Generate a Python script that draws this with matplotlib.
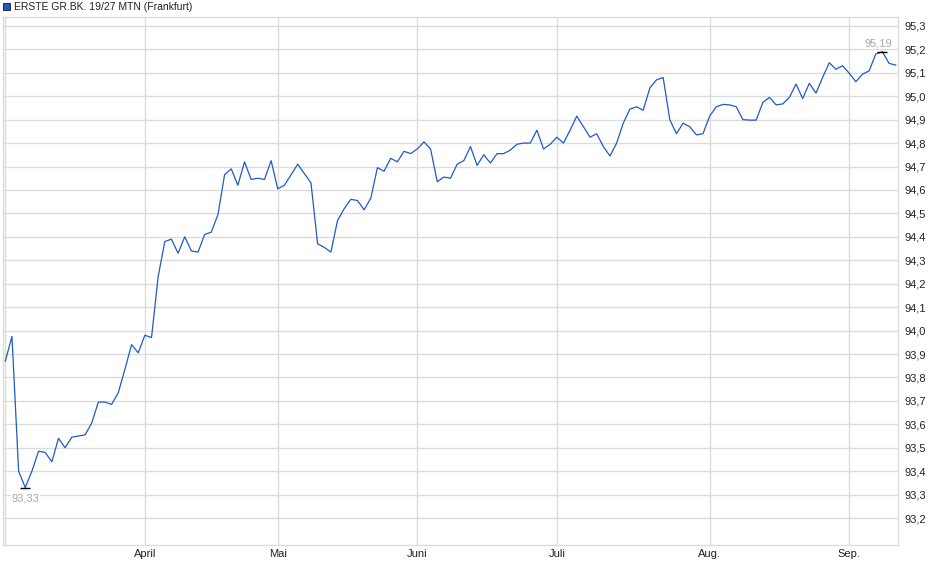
import matplotlib.pyplot as plt
from matplotlib.patches import Rectangle
from matplotlib.ticker import FuncFormatter

plt.rcParams['font.family'] = ['Liberation Sans', 'DejaVu Sans']

title = "ERSTE GR.BK. 19/27 MTN (Frankfurt)"

# daily closing prices (trading days)
prices = [
    93.87, 93.975, 93.40, 93.33, 93.40, 93.485, 93.48, 93.44, 93.54, 93.50,
    93.545, 93.55, 93.555, 93.605, 93.695, 93.695, 93.685, 93.735, 93.835, 93.94,
    93.905, 93.98, 93.97, 94.23, 94.38, 94.39, 94.33, 94.40, 94.34, 94.335,
    94.41, 94.42, 94.495, 94.665, 94.69, 94.62, 94.72, 94.645, 94.65, 94.645,
    94.725, 94.605, 94.62, 94.665, 94.71, 94.67, 94.63, 94.37, 94.355, 94.335,
    94.47, 94.52, 94.56, 94.555, 94.515, 94.565, 94.695, 94.68, 94.735, 94.72,
    94.765, 94.755, 94.775, 94.805, 94.775, 94.635, 94.655, 94.65, 94.71, 94.725,
    94.785, 94.705, 94.75, 94.715, 94.755, 94.755, 94.77, 94.795, 94.80, 94.80,
    94.855, 94.775, 94.795, 94.825, 94.80, 94.855, 94.915, 94.87, 94.825, 94.84,
    94.785, 94.745, 94.80, 94.885, 94.945, 94.955, 94.94, 95.035, 95.07, 95.08,
    94.90, 94.84, 94.885, 94.87, 94.835, 94.84, 94.915, 94.955, 94.965, 94.963,
    94.955, 94.90, 94.898, 94.898, 94.973, 94.995, 94.963, 94.967, 94.995, 95.052,
    94.99, 95.055, 95.013, 95.08, 95.143, 95.115, 95.13, 95.098, 95.062, 95.094,
    95.108, 95.18, 95.19, 95.14, 95.133,
]

# first trading day of each month (index into prices)
month_idx = [0, 21, 41, 62, 83, 106, 127]
month_labels = ["", "April", "Mai", "Juni", "Juli", "Aug.", "Sep."]

y_ticks = [93.2, 93.3, 93.4, 93.5, 93.6, 93.7, 93.8, 93.9, 94.0, 94.1, 94.2,
           94.3, 94.4, 94.5, 94.6, 94.7, 94.8, 94.9, 95.0, 95.1, 95.2, 95.3]

x = list(range(len(prices)))

fig = plt.figure(figsize=(9.4, 5.79), dpi=100)
ax = fig.add_axes([3 / 940, 1 - 545 / 579, 894.5 / 940, 528 / 579])

ax.plot(x, prices, color='#1f5bc4', linewidth=0.9, zorder=3)

ax.set_xlim(-0.35, 134.27)
ax.set_ylim(93.085, 95.338)

ax.set_xticks(month_idx)
ax.set_xticklabels(month_labels)
ax.set_yticks(y_ticks)
ax.yaxis.set_major_formatter(FuncFormatter(lambda v, p: f"{v:.1f}".replace('.', ',')))
ax.yaxis.tick_right()
ax.tick_params(axis='both', length=0, labelsize=8, colors='#222222')
ax.tick_params(axis='y', pad=5)
ax.tick_params(axis='x', pad=3)
ax.grid(True, color='#dcdcdc', linewidth=1)
for s in ax.spines.values():
    s.set_color('#dcdcdc')
    s.set_linewidth(1)

# min / max markers
i_min = prices.index(min(prices))
i_max = prices.index(max(prices))
for i, off in [(i_min, -8), (i_max, 6)]:
    ax.plot(i, prices[i], marker='_', markersize=7, mew=1, color='black', zorder=4)
    ax.annotate(f"{prices[i]:.2f}".replace('.', ','), (i, prices[i]),
                xytext=(0 if off < 0 else -3, off), textcoords='offset points',
                ha='center', va='center', fontsize=8, color='#a8a8a8',
                bbox=dict(facecolor='white', edgecolor='none', pad=0.5), zorder=5)

# legend header
fig.patches.append(Rectangle((3 / 940, 1 - 10 / 579), 7 / 940, 7 / 579,
                             transform=fig.transFigure, facecolor='#1f5bc4',
                             edgecolor='#333333', linewidth=0.8))
fig.text(14 / 940, 1 - 6.5 / 579, title, fontsize=7.5, va='center', ha='left',
         color='#222222')

fig.savefig('out.png', dpi=100)
